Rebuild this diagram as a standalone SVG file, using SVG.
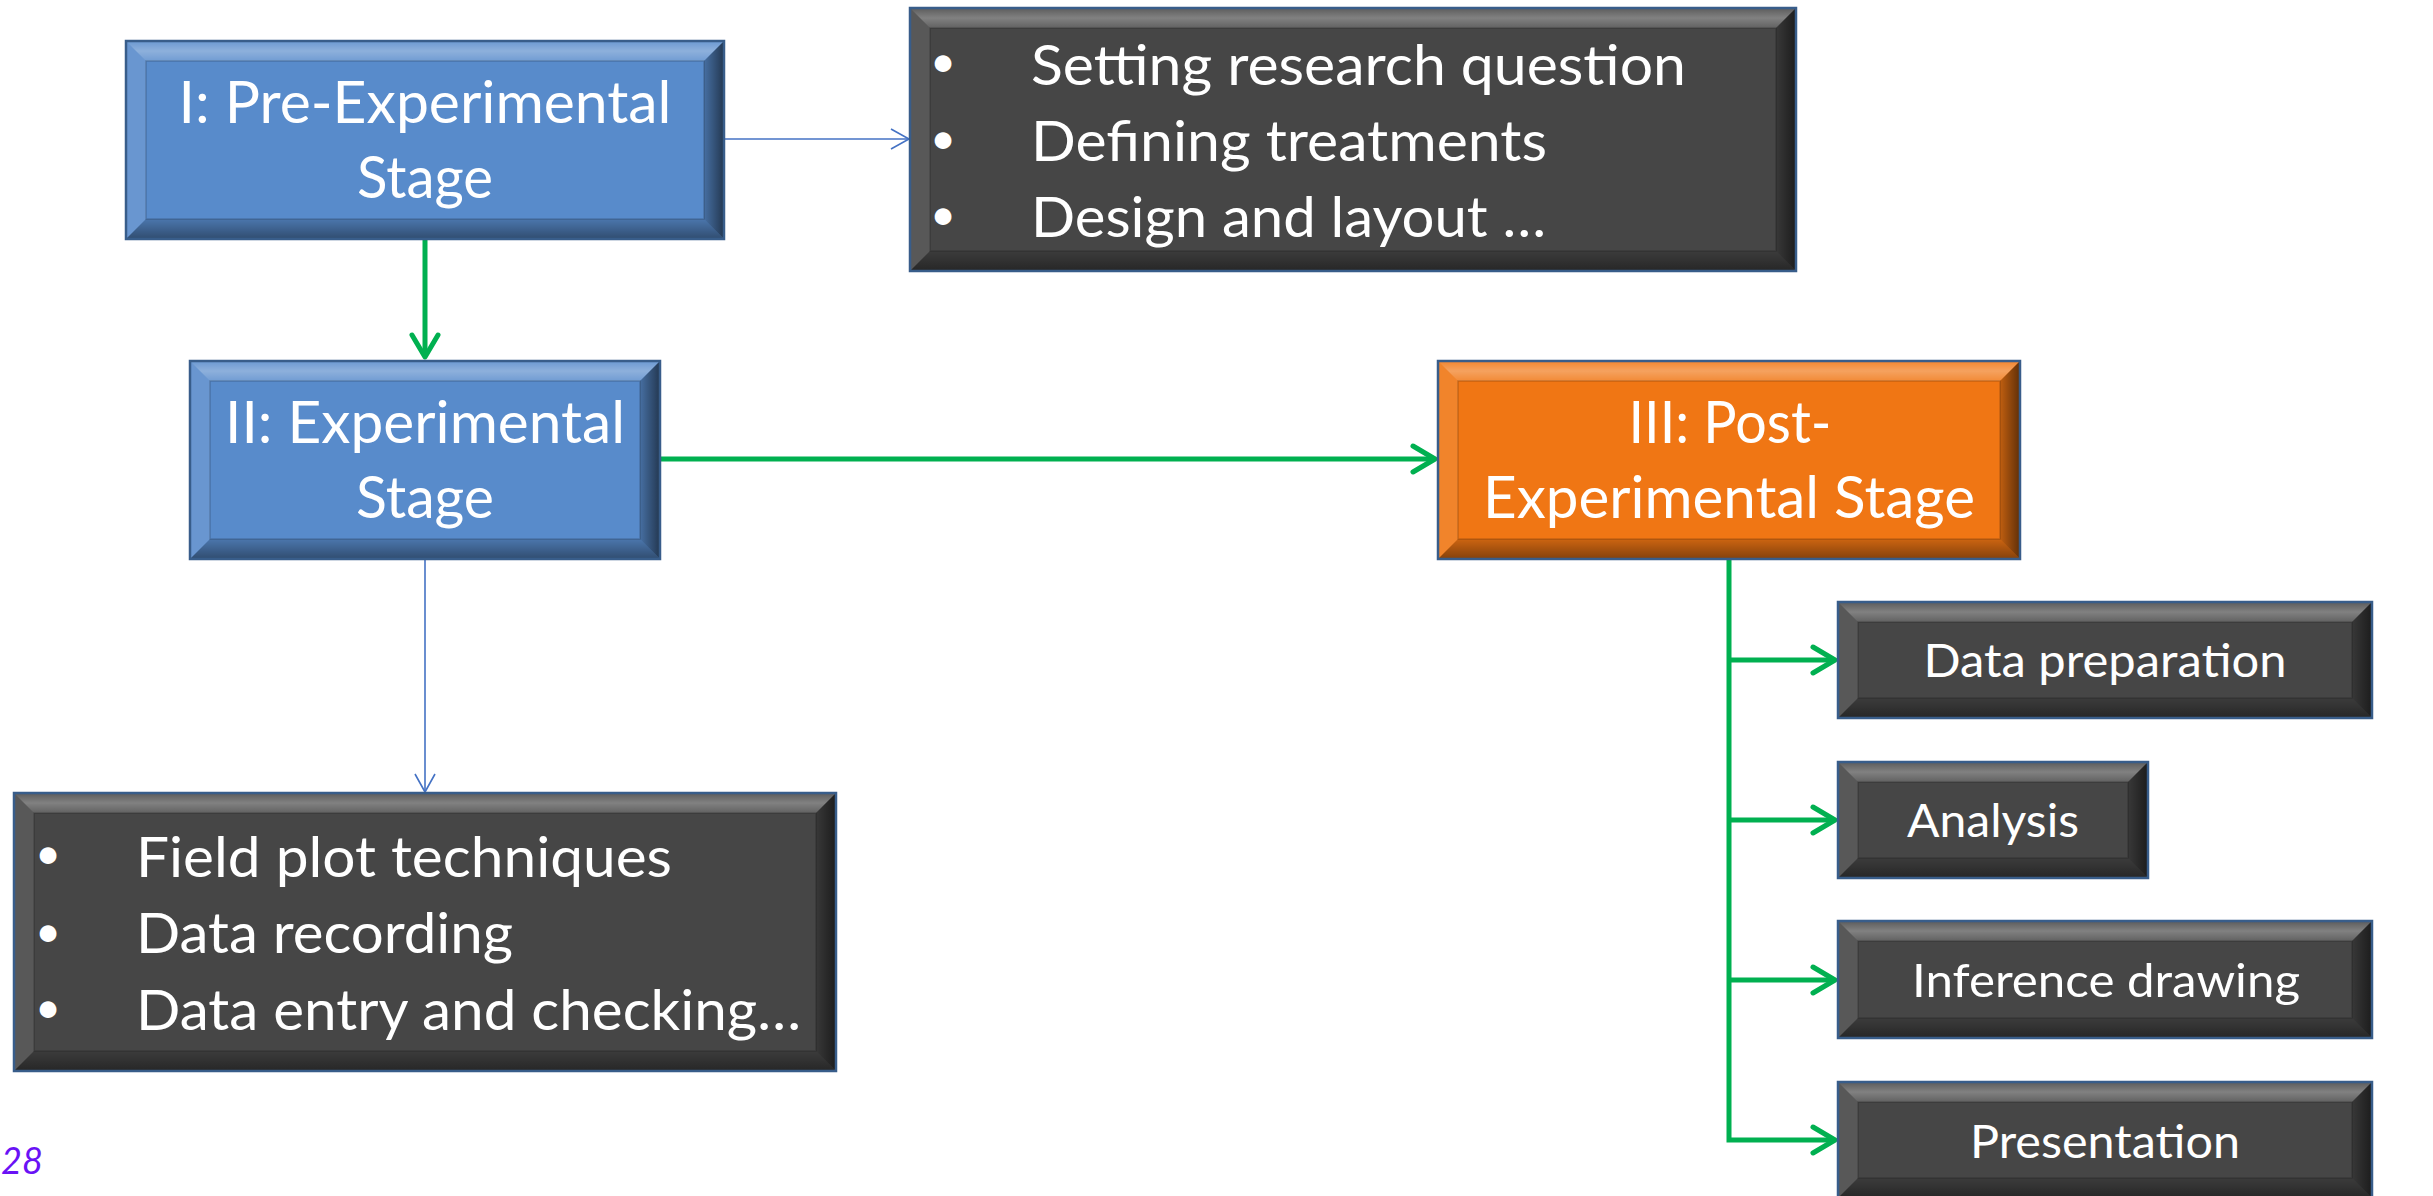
<svg xmlns="http://www.w3.org/2000/svg" width="2433" height="1196" viewBox="0 0 2433 1196">
<style>
.face-blue{fill:#588BCB}
.face-orange{fill:#F07614}
.face-dark{fill:#464646}
.edge{fill:none;stroke:#385D8A;stroke-width:2.5}
.bt{fill:url(#gTop)}
.bl{fill:#fff;fill-opacity:.1}
.br{fill:url(#gRight)}
.bb{fill:url(#gBot)}
.in{fill:none;stroke:#000;stroke-opacity:.18;stroke-width:1.5}
.lbl{font-family:Lato,"Open Sans",sans-serif;fill:#fff}
.big{font-size:58px}
.mid{font-size:56px}
.bul{font-size:45px}
.sm{font-size:47px}
.g{fill:none;stroke:#00B050;stroke-width:5}
.b{fill:none;stroke:#4472C4;stroke-width:1.6}
</style>
<defs>
<linearGradient id="gTop" x1="0" y1="0" x2="0" y2="1">
<stop offset="0" stop-color="#fff" stop-opacity=".12"/>
<stop offset=".5" stop-color="#fff" stop-opacity=".32"/>
<stop offset="1" stop-color="#fff" stop-opacity=".15"/>
</linearGradient>
<linearGradient id="gRight" x1="0" y1="0" x2="1" y2="0">
<stop offset="0" stop-color="#000" stop-opacity=".2"/>
<stop offset="1" stop-color="#000" stop-opacity=".6"/>
</linearGradient>
<linearGradient id="gBot" x1="0" y1="0" x2="0" y2="1">
<stop offset="0" stop-color="#000" stop-opacity=".15"/>
<stop offset="1" stop-color="#000" stop-opacity=".45"/>
</linearGradient>
<marker id="ag" markerUnits="userSpaceOnUse" viewBox="-30 -18 40 36" markerWidth="40" markerHeight="36" refX="0" refY="0" orient="auto" overflow="visible">
<path d="M-22,-13 L0,0 L-22,13" fill="none" stroke="#00B050" stroke-width="5" stroke-linejoin="round" stroke-linecap="round"/>
</marker>
<marker id="ab" markerUnits="userSpaceOnUse" viewBox="-24 -12 28 24" markerWidth="28" markerHeight="24" refX="0" refY="0" orient="auto" overflow="visible">
<path d="M-18,-10 L0,0 L-18,10" fill="none" stroke="#4472C4" stroke-width="1.6"/>
</marker>
</defs>
<rect width="2433" height="1196" fill="#fff"/>

<g id="connectors">
<path class="b" d="M724,139 H909" marker-end="url(#ab)"/>
<path class="b" d="M425,559 V792" marker-end="url(#ab)"/>
<path class="g" d="M425,239 V357" marker-end="url(#ag)"/>
<path class="g" d="M660,459 H1435" marker-end="url(#ag)"/>
<path class="g" d="M1729,559 V1140 H1835" marker-end="url(#ag)"/>
<path class="g" d="M1729,660 H1835" marker-end="url(#ag)"/>
<path class="g" d="M1729,820 H1835" marker-end="url(#ag)"/>
<path class="g" d="M1729,980 H1835" marker-end="url(#ag)"/>
</g>

<g id="stage1">
<rect class="face-blue" x="126" y="41" width="598" height="198"/>
<polygon class="bt" points="126,41 724,41 704,61 146,61"/>
<polygon class="bl" points="126,41 146,61 146,219 126,239"/>
<polygon class="br" points="724,41 724,239 704,219 704,61"/>
<polygon class="bb" points="126,239 146,219 704,219 724,239"/>
<rect class="in" x="146" y="61" width="558" height="158"/>
<rect class="edge" x="126" y="41" width="598" height="198"/>
<text class="lbl big" x="425" y="123" text-anchor="middle" textLength="493" lengthAdjust="spacingAndGlyphs">I: Pre-Experimental</text>
<text class="lbl big" x="425" y="198" text-anchor="middle" textLength="136" lengthAdjust="spacingAndGlyphs">Stage</text>
</g>

<g id="stage1-tasks">
<rect class="face-dark" x="910" y="8" width="886" height="263"/>
<polygon class="bt" points="910,8 1796,8 1776,28 930,28"/>
<polygon class="bl" points="910,8 930,28 930,251 910,271"/>
<polygon class="br" points="1796,8 1796,271 1776,251 1776,28"/>
<polygon class="bb" points="910,271 930,251 1776,251 1796,271"/>
<rect class="in" x="930" y="28" width="846" height="223"/>
<rect class="edge" x="910" y="8" width="886" height="263"/>
<text class="lbl bul" x="943" y="77" text-anchor="middle">•</text>
<text class="lbl bul" x="943" y="154" text-anchor="middle">•</text>
<text class="lbl bul" x="943" y="230" text-anchor="middle">•</text>
<text class="lbl mid" x="1031" y="85" textLength="655" lengthAdjust="spacingAndGlyphs">Setting research question</text>
<text class="lbl mid" x="1031" y="161" textLength="516" lengthAdjust="spacingAndGlyphs">Defining treatments</text>
<text class="lbl mid" x="1031" y="237" textLength="515" lengthAdjust="spacingAndGlyphs">Design and layout …</text>
</g>

<g id="stage2">
<rect class="face-blue" x="190" y="361" width="470" height="198"/>
<polygon class="bt" points="190,361 660,361 640,381 210,381"/>
<polygon class="bl" points="190,361 210,381 210,539 190,559"/>
<polygon class="br" points="660,361 660,559 640,539 640,381"/>
<polygon class="bb" points="190,559 210,539 640,539 660,559"/>
<rect class="in" x="210" y="381" width="430" height="158"/>
<rect class="edge" x="190" y="361" width="470" height="198"/>
<text class="lbl big" x="425" y="443" text-anchor="middle" textLength="400" lengthAdjust="spacingAndGlyphs">II: Experimental</text>
<text class="lbl big" x="425" y="518" text-anchor="middle" textLength="138" lengthAdjust="spacingAndGlyphs">Stage</text>
</g>

<g id="stage2-tasks">
<rect class="face-dark" x="14" y="793" width="822" height="278"/>
<polygon class="bt" points="14,793 836,793 816,813 34,813"/>
<polygon class="bl" points="14,793 34,813 34,1051 14,1071"/>
<polygon class="br" points="836,793 836,1071 816,1051 816,813"/>
<polygon class="bb" points="14,1071 34,1051 816,1051 836,1071"/>
<rect class="in" x="34" y="813" width="782" height="238"/>
<rect class="edge" x="14" y="793" width="822" height="278"/>
<text class="lbl bul" x="48" y="869" text-anchor="middle">•</text>
<text class="lbl bul" x="48" y="947" text-anchor="middle">•</text>
<text class="lbl bul" x="48" y="1023" text-anchor="middle">•</text>
<text class="lbl mid" x="136" y="877" textLength="536" lengthAdjust="spacingAndGlyphs">Field plot techniques</text>
<text class="lbl mid" x="136" y="953" textLength="377" lengthAdjust="spacingAndGlyphs">Data recording</text>
<text class="lbl mid" x="136" y="1030" textLength="665" lengthAdjust="spacingAndGlyphs">Data entry and checking…</text>
</g>

<g id="stage3">
<rect class="face-orange" x="1438" y="361" width="582" height="198"/>
<polygon class="bt" points="1438,361 2020,361 2000,381 1458,381"/>
<polygon class="bl" points="1438,361 1458,381 1458,539 1438,559"/>
<polygon class="br" points="2020,361 2020,559 2000,539 2000,381"/>
<polygon class="bb" points="1438,559 1458,539 2000,539 2020,559"/>
<rect class="in" x="1458" y="381" width="542" height="158"/>
<rect class="edge" x="1438" y="361" width="582" height="198"/>
<text class="lbl big" x="1730" y="443" text-anchor="middle" textLength="203" lengthAdjust="spacingAndGlyphs">III: Post-</text>
<text class="lbl big" x="1729" y="518" text-anchor="middle" textLength="492" lengthAdjust="spacingAndGlyphs">Experimental Stage</text>
</g>

<g id="data-preparation">
<rect class="face-dark" x="1838" y="602" width="534" height="116"/>
<polygon class="bt" points="1838,602 2372,602 2352,622 1858,622"/>
<polygon class="bl" points="1838,602 1858,622 1858,698 1838,718"/>
<polygon class="br" points="2372,602 2372,718 2352,698 2352,622"/>
<polygon class="bb" points="1838,718 1858,698 2352,698 2372,718"/>
<rect class="in" x="1858" y="622" width="494" height="76"/>
<rect class="edge" x="1838" y="602" width="534" height="116"/>
<text class="lbl sm" x="2105" y="677" text-anchor="middle" textLength="363" lengthAdjust="spacingAndGlyphs">Data preparation</text>
</g>

<g id="analysis">
<rect class="face-dark" x="1838" y="762" width="310" height="116"/>
<polygon class="bt" points="1838,762 2148,762 2128,782 1858,782"/>
<polygon class="bl" points="1838,762 1858,782 1858,858 1838,878"/>
<polygon class="br" points="2148,762 2148,878 2128,858 2128,782"/>
<polygon class="bb" points="1838,878 1858,858 2128,858 2148,878"/>
<rect class="in" x="1858" y="782" width="270" height="76"/>
<rect class="edge" x="1838" y="762" width="310" height="116"/>
<text class="lbl sm" x="1993" y="837" text-anchor="middle" textLength="172" lengthAdjust="spacingAndGlyphs">Analysis</text>
</g>

<g id="inference-drawing">
<rect class="face-dark" x="1838" y="921" width="534" height="117"/>
<polygon class="bt" points="1838,921 2372,921 2352,941 1858,941"/>
<polygon class="bl" points="1838,921 1858,941 1858,1018 1838,1038"/>
<polygon class="br" points="2372,921 2372,1038 2352,1018 2352,941"/>
<polygon class="bb" points="1838,1038 1858,1018 2352,1018 2372,1038"/>
<rect class="in" x="1858" y="941" width="494" height="77"/>
<rect class="edge" x="1838" y="921" width="534" height="117"/>
<text class="lbl sm" x="2106" y="997" text-anchor="middle" textLength="388" lengthAdjust="spacingAndGlyphs">Inference drawing</text>
</g>

<g id="presentation">
<rect class="face-dark" x="1838" y="1082" width="534" height="116"/>
<polygon class="bt" points="1838,1082 2372,1082 2352,1102 1858,1102"/>
<polygon class="bl" points="1838,1082 1858,1102 1858,1178 1838,1198"/>
<polygon class="br" points="2372,1082 2372,1198 2352,1178 2352,1102"/>
<polygon class="bb" points="1838,1198 1858,1178 2352,1178 2372,1198"/>
<rect class="in" x="1858" y="1102" width="494" height="76"/>
<rect class="edge" x="1838" y="1082" width="534" height="116"/>
<text class="lbl sm" x="2105" y="1158" text-anchor="middle" textLength="270" lengthAdjust="spacingAndGlyphs">Presentation</text>
</g>

<text x="1" y="1174" font-family="Lato,'Open Sans',sans-serif" font-style="italic" font-size="36" fill="#6A12F5">28</text>
</svg>
